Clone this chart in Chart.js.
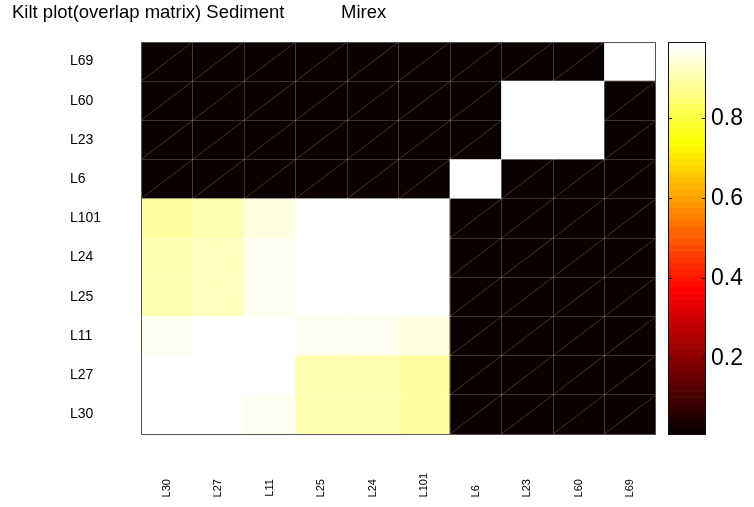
<!DOCTYPE html>
<html><head><meta charset="utf-8">
<script src="https://cdn.jsdelivr.net/npm/chart.js@4/dist/chart.umd.min.js"></script>
<style>html,body{margin:0;padding:0;background:#fff}</style>
</head><body>
<canvas id="c" width="754" height="507"></canvas>
<script>
const titleText = 'Kilt plot(overlap matrix) Sediment           Mirex';
const colLabels = ['L30','L27','L11','L25','L24','L101','L6','L23','L60','L69'];
const rowLabels = ['L30','L27','L11','L25','L24','L101','L6','L23','L60','L69']; // bottom to top

// overlap values, one array per row (columns in colLabels order)
const valsL30  = [0.991,0.991,0.962,0.905,0.905,0.888,0.011,0.011,0.011,0.011];
const valsL27  = [0.991,0.991,0.991,0.912,0.912,0.895,0.011,0.011,0.011,0.011];
const valsL11  = [0.962,0.991,0.991,0.965,0.965,0.953,0.011,0.011,0.011,0.011];
const valsL25  = [0.905,0.918,0.965,0.991,0.991,0.991,0.011,0.011,0.011,0.011];
const valsL24  = [0.905,0.918,0.965,0.991,0.991,0.991,0.011,0.011,0.011,0.011];
const valsL101 = [0.888,0.900,0.953,0.991,0.991,0.991,0.011,0.011,0.011,0.011];
const valsL6   = [0.011,0.011,0.011,0.011,0.011,0.011,0.991,0.011,0.011,0.011];
const valsL23  = [0.011,0.011,0.011,0.011,0.011,0.011,0.011,0.991,0.991,0.011];
const valsL60  = [0.011,0.011,0.011,0.011,0.011,0.011,0.011,0.991,0.991,0.011];
const valsL69  = [0.011,0.011,0.011,0.011,0.011,0.011,0.011,0.011,0.011,0.991];
const matrix = [valsL30,valsL27,valsL11,valsL25,valsL24,valsL101,valsL6,valsL23,valsL60,valsL69];

const cbTicks = [0.2,0.4,0.6,0.8];
const allVals = matrix.flat();
const cbMin = Math.min(...allVals);
const cbMax = Math.max(...allVals);

const FONT = 'Liberation Sans, Arial, Helvetica, sans-serif';
const lineCol = 'rgba(255,255,255,0.2)';
const NC = 64;

function hotColor(k) { // k = 1..64 (MATLAB hot(64))
  const r = k <= 24 ? k / 24 : 1;
  const g = k <= 24 ? 0 : (k <= 48 ? (k - 24) / 24 : 1);
  const b = k <= 48 ? 0 : (k - 48) / 16;
  return 'rgb(' + Math.round(r*255) + ',' + Math.round(g*255) + ',' + Math.round(b*255) + ')';
}
function colorFor(v) {
  let k = Math.floor((v - cbMin) / (cbMax - cbMin) * NC) + 1;
  k = Math.max(1, Math.min(NC, k));
  return hotColor(k);
}
function padLabel(s) { return s + ' '.repeat(2 * (4 - s.length)); }
function noVPad(s) { s.paddingTop = 0; s.paddingBottom = 0; }

const decor = {
  id: 'decor',
  afterDatasetsDraw(chart) {
    const {ctx} = chart;
    const x = chart.scales.x, y = chart.scales.y;
    const hw = (x.getPixelForValue(1) - x.getPixelForValue(0)) / 2;
    ctx.save();
    ctx.strokeStyle = lineCol; ctx.lineWidth = 1;
    ctx.beginPath();
    rowLabels.forEach((_, r) => colLabels.forEach((_, c) => {
      const cx = x.getPixelForValue(c);
      ctx.moveTo(cx - hw, y.getPixelForValue(r));
      ctx.lineTo(cx + hw, y.getPixelForValue(r + 1));
    }));
    ctx.stroke();
    ctx.restore();
  },
  afterDraw(chart) {
    const {ctx, chartArea: a} = chart;
    const cb = chart.scales.cb;
    ctx.save();
    // plot box
    ctx.strokeStyle = '#555'; ctx.lineWidth = 1;
    ctx.strokeRect(a.left + 0.5, a.top + 0.5, a.right - a.left - 1, a.bottom - a.top);
    // colorbar
    const x0 = a.right + 12, w = 37;
    for (let k = 0; k < NC; k++) {
      const v0 = cbMin + k * (cbMax - cbMin) / NC;
      const v1 = cbMin + (k + 1) * (cbMax - cbMin) / NC;
      const p0 = cb.getPixelForValue(v0), p1 = cb.getPixelForValue(v1);
      ctx.fillStyle = hotColor(k + 1);
      ctx.fillRect(x0, p1, w, p0 - p1 + 0.6);
    }
    ctx.strokeStyle = '#111';
    ctx.strokeRect(x0 + 0.5, cb.top + 0.5, w, cb.bottom - cb.top);
    ctx.beginPath();
    cbTicks.forEach(v => {
      const py = Math.round(cb.getPixelForValue(v)) + 0.5;
      ctx.moveTo(x0, py); ctx.lineTo(x0 + 4, py);
      ctx.moveTo(x0 + w - 3, py); ctx.lineTo(x0 + w + 1, py);
    });
    ctx.stroke();
    ctx.restore();
  }
};

new Chart(document.getElementById('c'), {
  type: 'bar',
  data: {
    labels: colLabels,
    datasets: rowLabels.map((name, r) => ({
      label: name,
      data: colLabels.map(() => [r, r + 1]),
      backgroundColor: matrix[r].map(colorFor),
      borderWidth: 0,
      barPercentage: 1,
      categoryPercentage: 1,
      grouped: false,
      xAxisID: 'x',
      yAxisID: 'y'
    }))
  },
  options: {
    responsive: false,
    animation: false,
    layout: { padding: { left: 12, right: 0, top: 0, bottom: 0 } },
    plugins: {
      legend: { display: false },
      tooltip: { enabled: false },
      title: {
        display: true, text: titleText, align: 'start', color: '#000',
        font: { family: FONT, size: 18.5, weight: 'normal' },
        padding: { top: 1.5, bottom: 18.3 }
      }
    },
    scales: {
      x: {
        type: 'category', offset: true,
        grid: { offset: true, color: lineCol, drawTicks: false, z: 1 },
        border: { display: false },
        ticks: {
          autoSkip: false, minRotation: 90, maxRotation: 90, padding: 39, color: '#000',
          font: { family: FONT, size: 11 },
          callback: (v, i) => padLabel(colLabels[i])
        },
        afterFit: s => { s.height = 73; s.paddingLeft = 0; s.paddingRight = 0; }
      },
      y: {
        type: 'linear', min: 0, max: 10, position: 'left', weight: 0,
        grid: { display: false, drawTicks: false },
        border: { display: false },
        afterBuildTicks: s => { s.ticks = rowLabels.map((_, i) => ({ value: i + 0.5 })); },
        ticks: {
          autoSkip: false, crossAlign: 'far', padding: 4, color: '#000',
          font: { family: FONT, size: 14 },
          callback: v => rowLabels[Math.floor(v)]
        },
        afterFit: s => { s.width = 71; noVPad(s); }
      },
      yGrid: {
        type: 'linear', min: 0, max: 10, position: 'left', weight: 1,
        ticks: { display: false, stepSize: 1 },
        grid: { color: lineCol, drawTicks: false, z: 1 },
        border: { display: false },
        afterFit: s => { s.width = 58; noVPad(s); }
      },
      cb: {
        type: 'linear', position: 'right', min: cbMin, max: cbMax,
        grid: { display: false, drawTicks: false },
        border: { display: false },
        afterBuildTicks: s => { s.ticks = cbTicks.map(v => ({ value: v })); },
        ticks: {
          padding: 55, color: '#000',
          font: { family: FONT, size: 23 },
          callback: v => v.toFixed(1)
        },
        afterFit: s => { s.width = 98; noVPad(s); }
      }
    }
  },
  plugins: [decor]
});
</script>
</body></html>
